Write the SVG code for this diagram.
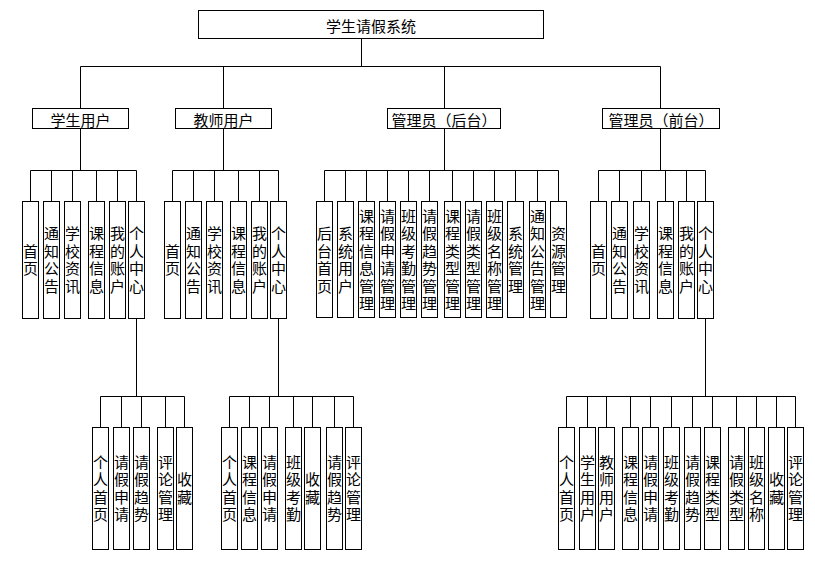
<svg xmlns="http://www.w3.org/2000/svg" width="815" height="563" viewBox="0 0 815 563">
<style>
.box{fill:#fff;stroke:#000;stroke-width:1}
.ln{fill:none;stroke:#000;stroke-width:1}
text{font-family:"Noto Sans CJK SC","Liberation Sans",sans-serif;font-size:15px;fill:#000;text-anchor:middle;dominant-baseline:central}
.v{writing-mode:vertical-rl;letter-spacing:2.5px}
</style>
<rect width="815" height="563" fill="#fff"/>
<g id="connectors" class="ln">
<path d="M361.5 38.5V66.5M80.5 66.5H660.5M80.5 66.5V108.5M223.5 66.5V108.5M444.5 66.5V108.5M660.5 66.5V108.5"/>
<path d="M80.5 128.5V170.5M30.5 170.5H136.5M30.5 170.5V201.5M51.5 170.5V201.5M72.5 170.5V201.5M96.5 170.5V201.5M117.5 170.5V201.5M136.5 170.5V201.5"/>
<path d="M223.5 128.5V170.5M172.5 170.5H278.5M172.5 170.5V201.5M193.5 170.5V201.5M214.5 170.5V201.5M238.5 170.5V201.5M259.5 170.5V201.5M278.5 170.5V201.5"/>
<path d="M444.5 128.5V170.5M324.5 170.5H558.5M324.5 170.5V201.5M345.5 170.5V201.5M366.5 170.5V201.5M387.5 170.5V201.5M408.5 170.5V201.5M429.5 170.5V201.5M452.5 170.5V201.5M473.5 170.5V201.5M494.5 170.5V201.5M515.5 170.5V201.5M537.5 170.5V201.5M558.5 170.5V201.5"/>
<path d="M660.5 128.5V170.5M598.5 170.5H705.5M598.5 170.5V201.5M619.5 170.5V201.5M641.5 170.5V201.5M665.5 170.5V201.5M686.5 170.5V201.5M705.5 170.5V201.5"/>
<path d="M136.5 318.5V396.5M100.5 396.5H184.5M100.5 396.5V427.5M121.5 396.5V427.5M141.5 396.5V427.5M165.5 396.5V427.5M184.5 396.5V427.5"/>
<path d="M278.5 318.5V396.5M229.5 396.5H353.5M229.5 396.5V427.5M249.5 396.5V427.5M269.5 396.5V427.5M293.5 396.5V427.5M312.5 396.5V427.5M334.5 396.5V427.5M353.5 396.5V427.5"/>
<path d="M705.5 318.5V396.5M566.5 396.5H795.5M566.5 396.5V427.5M587.5 396.5V427.5M606.5 396.5V427.5M630.5 396.5V427.5M650.5 396.5V427.5M671.5 396.5V427.5M692.5 396.5V427.5M712.5 396.5V427.5M736.5 396.5V427.5M756.5 396.5V427.5M776.5 396.5V427.5M795.5 396.5V427.5"/>
</g>
<g id="n-root"><rect class="box" x="198.5" y="10.5" width="345" height="28"/><text x="371" y="25">学生请假系统</text></g>
<g id="n-student"><rect class="box" x="32.5" y="108.5" width="96" height="20"/><text x="80.5" y="119">学生用户</text></g>
<g id="n-teacher"><rect class="box" x="175.5" y="108.5" width="96" height="20"/><text x="223.5" y="119">教师用户</text></g>
<g id="n-adminback"><rect class="box" x="387.5" y="108.5" width="113" height="20"/><text x="444" y="119">管理员（后台）</text></g>
<g id="n-adminfront"><rect class="box" x="602.5" y="108.5" width="117" height="20"/><text x="661" y="119">管理员（前台）</text></g>

<g id="s1"><rect class="box" x="22.5" y="201.5" width="16" height="117"/><text class="v" x="30.5" y="261.25">首页</text></g>
<g id="s2"><rect class="box" x="43.5" y="201.5" width="16" height="117"/><text class="v" x="51.5" y="261.25">通知公告</text></g>
<g id="s3"><rect class="box" x="64.5" y="201.5" width="16" height="117"/><text class="v" x="72.5" y="261.25">学校资讯</text></g>
<g id="s4"><rect class="box" x="88.5" y="201.5" width="16" height="117"/><text class="v" x="96.5" y="261.25">课程信息</text></g>
<g id="s5"><rect class="box" x="109.5" y="201.5" width="16" height="117"/><text class="v" x="117.5" y="261.25">我的账户</text></g>
<g id="s6"><rect class="box" x="128.5" y="201.5" width="16" height="117"/><text class="v" x="136.5" y="261.25">个人中心</text></g>

<g id="t1"><rect class="box" x="164.5" y="201.5" width="16" height="117"/><text class="v" x="172.5" y="261.25">首页</text></g>
<g id="t2"><rect class="box" x="185.5" y="201.5" width="16" height="117"/><text class="v" x="193.5" y="261.25">通知公告</text></g>
<g id="t3"><rect class="box" x="206.5" y="201.5" width="16" height="117"/><text class="v" x="214.5" y="261.25">学校资讯</text></g>
<g id="t4"><rect class="box" x="230.5" y="201.5" width="16" height="117"/><text class="v" x="238.5" y="261.25">课程信息</text></g>
<g id="t5"><rect class="box" x="251.5" y="201.5" width="16" height="117"/><text class="v" x="259.5" y="261.25">我的账户</text></g>
<g id="t6"><rect class="box" x="270.5" y="201.5" width="16" height="117"/><text class="v" x="278.5" y="261.25">个人中心</text></g>

<g id="b1"><rect class="box" x="316.5" y="201.5" width="16" height="116"/><text class="v" x="324.5" y="261.25">后台首页</text></g>
<g id="b2"><rect class="box" x="337.5" y="201.5" width="16" height="116"/><text class="v" x="345.5" y="261.25">系统用户</text></g>
<g id="b3"><rect class="box" x="358.5" y="201.5" width="16" height="116"/><text class="v" x="366.5" y="261.25">课程信息管理</text></g>
<g id="b4"><rect class="box" x="379.5" y="201.5" width="16" height="116"/><text class="v" x="387.5" y="261.25">请假申请管理</text></g>
<g id="b5"><rect class="box" x="400.5" y="201.5" width="16" height="116"/><text class="v" x="408.5" y="261.25">班级考勤管理</text></g>
<g id="b6"><rect class="box" x="421.5" y="201.5" width="16" height="116"/><text class="v" x="429.5" y="261.25">请假趋势管理</text></g>
<g id="b7"><rect class="box" x="444.5" y="201.5" width="16" height="116"/><text class="v" x="452.5" y="261.25">课程类型管理</text></g>
<g id="b8"><rect class="box" x="465.5" y="201.5" width="16" height="116"/><text class="v" x="473.5" y="261.25">请假类型管理</text></g>
<g id="b9"><rect class="box" x="486.5" y="201.5" width="16" height="116"/><text class="v" x="494.5" y="261.25">班级名称管理</text></g>
<g id="b10"><rect class="box" x="507.5" y="201.5" width="16" height="116"/><text class="v" x="515.5" y="261.25">系统管理</text></g>
<g id="b11"><rect class="box" x="529.5" y="201.5" width="16" height="116"/><text class="v" x="537.5" y="261.25">通知公告管理</text></g>
<g id="b12"><rect class="box" x="550.5" y="201.5" width="16" height="116"/><text class="v" x="558.5" y="261.25">资源管理</text></g>

<g id="f1"><rect class="box" x="590.5" y="201.5" width="16" height="117"/><text class="v" x="598.5" y="261.25">首页</text></g>
<g id="f2"><rect class="box" x="611.5" y="201.5" width="16" height="117"/><text class="v" x="619.5" y="261.25">通知公告</text></g>
<g id="f3"><rect class="box" x="633.5" y="201.5" width="16" height="117"/><text class="v" x="641.5" y="261.25">学校资讯</text></g>
<g id="f4"><rect class="box" x="657.5" y="201.5" width="16" height="117"/><text class="v" x="665.5" y="261.25">课程信息</text></g>
<g id="f5"><rect class="box" x="678.5" y="201.5" width="16" height="117"/><text class="v" x="686.5" y="261.25">我的账户</text></g>
<g id="f6"><rect class="box" x="697.5" y="201.5" width="16" height="117"/><text class="v" x="705.5" y="261.25">个人中心</text></g>

<g id="sc1"><rect class="box" x="92.5" y="427.5" width="16" height="122"/><text class="v" x="100.5" y="489.75">个人首页</text></g>
<g id="sc2"><rect class="box" x="113.5" y="427.5" width="16" height="122"/><text class="v" x="121.5" y="489.75">请假申请</text></g>
<g id="sc3"><rect class="box" x="133.5" y="427.5" width="16" height="122"/><text class="v" x="141.5" y="489.75">请假趋势</text></g>
<g id="sc4"><rect class="box" x="157.5" y="427.5" width="16" height="122"/><text class="v" x="165.5" y="489.75">评论管理</text></g>
<g id="sc5"><rect class="box" x="176.5" y="427.5" width="16" height="122"/><text class="v" x="184.5" y="489.75">收藏</text></g>

<g id="tc1"><rect class="box" x="221.5" y="427.5" width="16" height="122"/><text class="v" x="229.5" y="489.75">个人首页</text></g>
<g id="tc2"><rect class="box" x="241.5" y="427.5" width="16" height="122"/><text class="v" x="249.5" y="489.75">课程信息</text></g>
<g id="tc3"><rect class="box" x="261.5" y="427.5" width="16" height="122"/><text class="v" x="269.5" y="489.75">请假申请</text></g>
<g id="tc4"><rect class="box" x="285.5" y="427.5" width="16" height="122"/><text class="v" x="293.5" y="489.75">班级考勤</text></g>
<g id="tc5"><rect class="box" x="304.5" y="427.5" width="16" height="122"/><text class="v" x="312.5" y="489.75">收藏</text></g>
<g id="tc6"><rect class="box" x="326.5" y="427.5" width="16" height="122"/><text class="v" x="334.5" y="489.75">请假趋势</text></g>
<g id="tc7"><rect class="box" x="345.5" y="427.5" width="16" height="122"/><text class="v" x="353.5" y="489.75">评论管理</text></g>

<g id="fc1"><rect class="box" x="558.5" y="427.5" width="16" height="122"/><text class="v" x="566.5" y="489.75">个人首页</text></g>
<g id="fc2"><rect class="box" x="579.5" y="427.5" width="16" height="122"/><text class="v" x="587.5" y="489.75">学生用户</text></g>
<g id="fc3"><rect class="box" x="598.5" y="427.5" width="16" height="122"/><text class="v" x="606.5" y="489.75">教师用户</text></g>
<g id="fc4"><rect class="box" x="622.5" y="427.5" width="16" height="122"/><text class="v" x="630.5" y="489.75">课程信息</text></g>
<g id="fc5"><rect class="box" x="642.5" y="427.5" width="16" height="122"/><text class="v" x="650.5" y="489.75">请假申请</text></g>
<g id="fc6"><rect class="box" x="663.5" y="427.5" width="16" height="122"/><text class="v" x="671.5" y="489.75">班级考勤</text></g>
<g id="fc7"><rect class="box" x="684.5" y="427.5" width="16" height="122"/><text class="v" x="692.5" y="489.75">请假趋势</text></g>
<g id="fc8"><rect class="box" x="704.5" y="427.5" width="16" height="122"/><text class="v" x="712.5" y="489.75">课程类型</text></g>
<g id="fc9"><rect class="box" x="728.5" y="427.5" width="16" height="122"/><text class="v" x="736.5" y="489.75">请假类型</text></g>
<g id="fc10"><rect class="box" x="748.5" y="427.5" width="16" height="122"/><text class="v" x="756.5" y="489.75">班级名称</text></g>
<g id="fc11"><rect class="box" x="768.5" y="427.5" width="16" height="122"/><text class="v" x="776.5" y="489.75">收藏</text></g>
<g id="fc12"><rect class="box" x="787.5" y="427.5" width="16" height="122"/><text class="v" x="795.5" y="489.75">评论管理</text></g>
</svg>
